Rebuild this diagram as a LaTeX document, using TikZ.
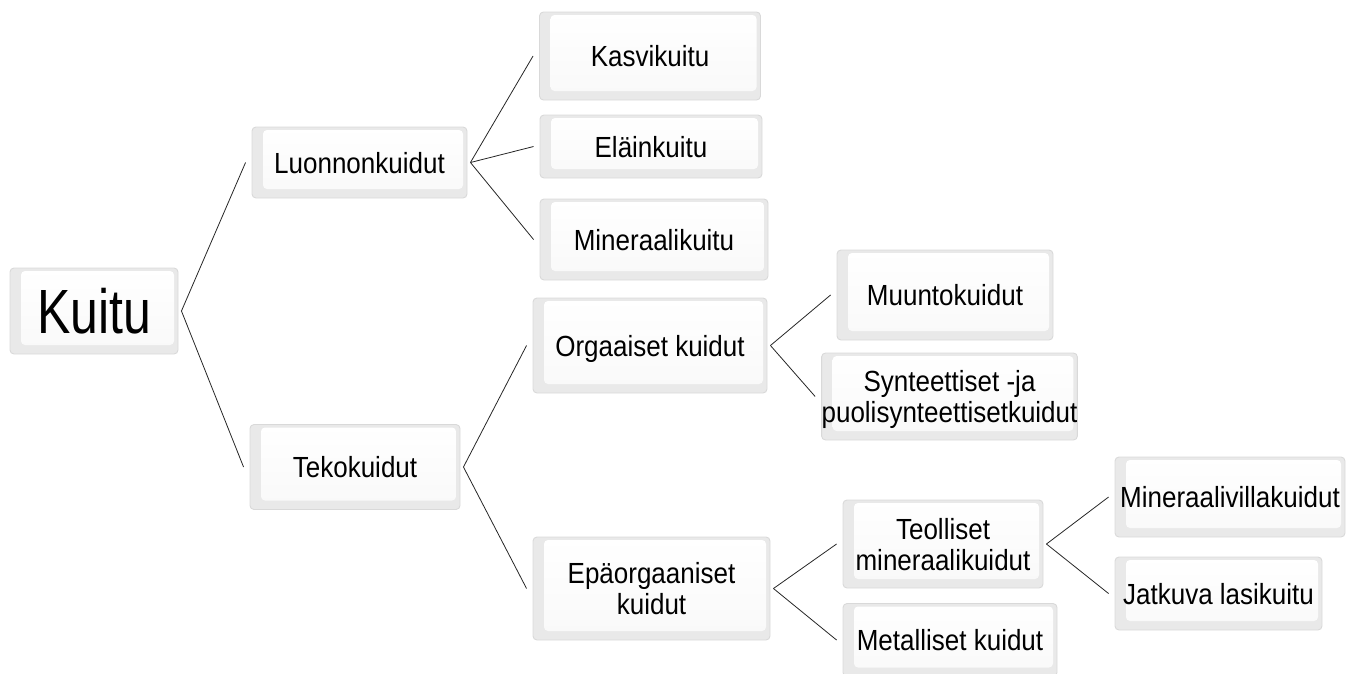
\documentclass[tikz,border=0pt]{standalone}
\usepackage{graphicx}
\usepackage{fontspec}
\setmainfont{Liberation Sans}
\newcommand\tx[1]{\raisebox{-4.5pt}[\height][\depth]{\scalebox{1}[1.12]{\begin{tabular}{@{}c@{}}#1\end{tabular}}}}
\begin{document}
\begin{tikzpicture}[x=1pt,y=-1pt,
  box/.style={draw=gray!30, line width=0.9pt, rounded corners=4pt,
    fill=gray!17, align=center, inner sep=0pt,
    font=\fontsize{26}{28}\selectfont,
    path picture={
      \shade[top color=white, bottom color=gray!5]
        ([xshift=11pt,yshift=9pt]path picture bounding box.south west)
        rectangle ([xshift=-4pt,yshift=-3pt]path picture bounding box.north east);
    }},
  link/.style={draw=black!85, line width=0.8pt}]
\useasboundingbox (0,0) rectangle (1364,673);
\node[box, minimum width=168pt, minimum height=86pt, font=\fontsize{50}{56}\selectfont] (kuitu) at (94,311) {\scalebox{1}[1.25]{Kuitu}};
\node[box, minimum width=215pt, minimum height=71pt] (luo) at (359.5,162.5) {\tx{Luonnonkuidut}};
\node[box, minimum width=210pt, minimum height=85pt] (teko) at (355,467) {\tx{Tekokuidut}};
\node[box, minimum width=221pt, minimum height=88pt] (kasvi) at (650,56) {\tx{Kasvikuitu}};
\node[box, minimum width=222pt, minimum height=63pt] (elain) at (651,146.5) {\tx{Eläinkuitu}};
\node[box, minimum width=228pt, minimum height=81pt] (miner) at (654,239.5) {\tx{Mineraalikuitu}};
\node[box, minimum width=234pt, minimum height=95pt] (org) at (650,345.5) {\tx{Orgaaiset kuidut}};
\node[box, minimum width=237pt, minimum height=103pt] (epa) at (651.5,588.5) {\tx{Epäorgaaniset\\kuidut}};
\node[box, minimum width=216pt, minimum height=90pt] (muunto) at (945,295) {\tx{Muuntokuidut}};
\node[box, minimum width=225pt, minimum height=87pt] (synt) at (949.5,396.5) {\tx{Synteettiset -ja\\puolisynteettisetkuidut}};
\node[box, minimum width=200pt, minimum height=88pt] (teol) at (943,544) {\tx{Teolliset\\mineraalikuidut}};
\node[box, minimum width=214pt, minimum height=73pt] (metal) at (950,640) {\tx{Metalliset kuidut}};
\node[box, minimum width=230pt, minimum height=80pt] (villa) at (1230,497) {\tx{Mineraalivillakuidut}};
\node[box, minimum width=207pt, minimum height=73pt] (lasi) at (1218.5,593.5) {\tx{Jatkuva lasikuitu}};
\foreach \a/\b in {kuitu/luo, kuitu/teko, luo/kasvi, luo/elain, luo/miner, teko/org, teko/epa, org/muunto, org/synt, epa/teol, epa/metal, teol/villa, teol/lasi}
  \draw[link] ([xshift=3pt]\a.east) -- ([xshift=-6pt]\b.west);
\end{tikzpicture}
\end{document}
